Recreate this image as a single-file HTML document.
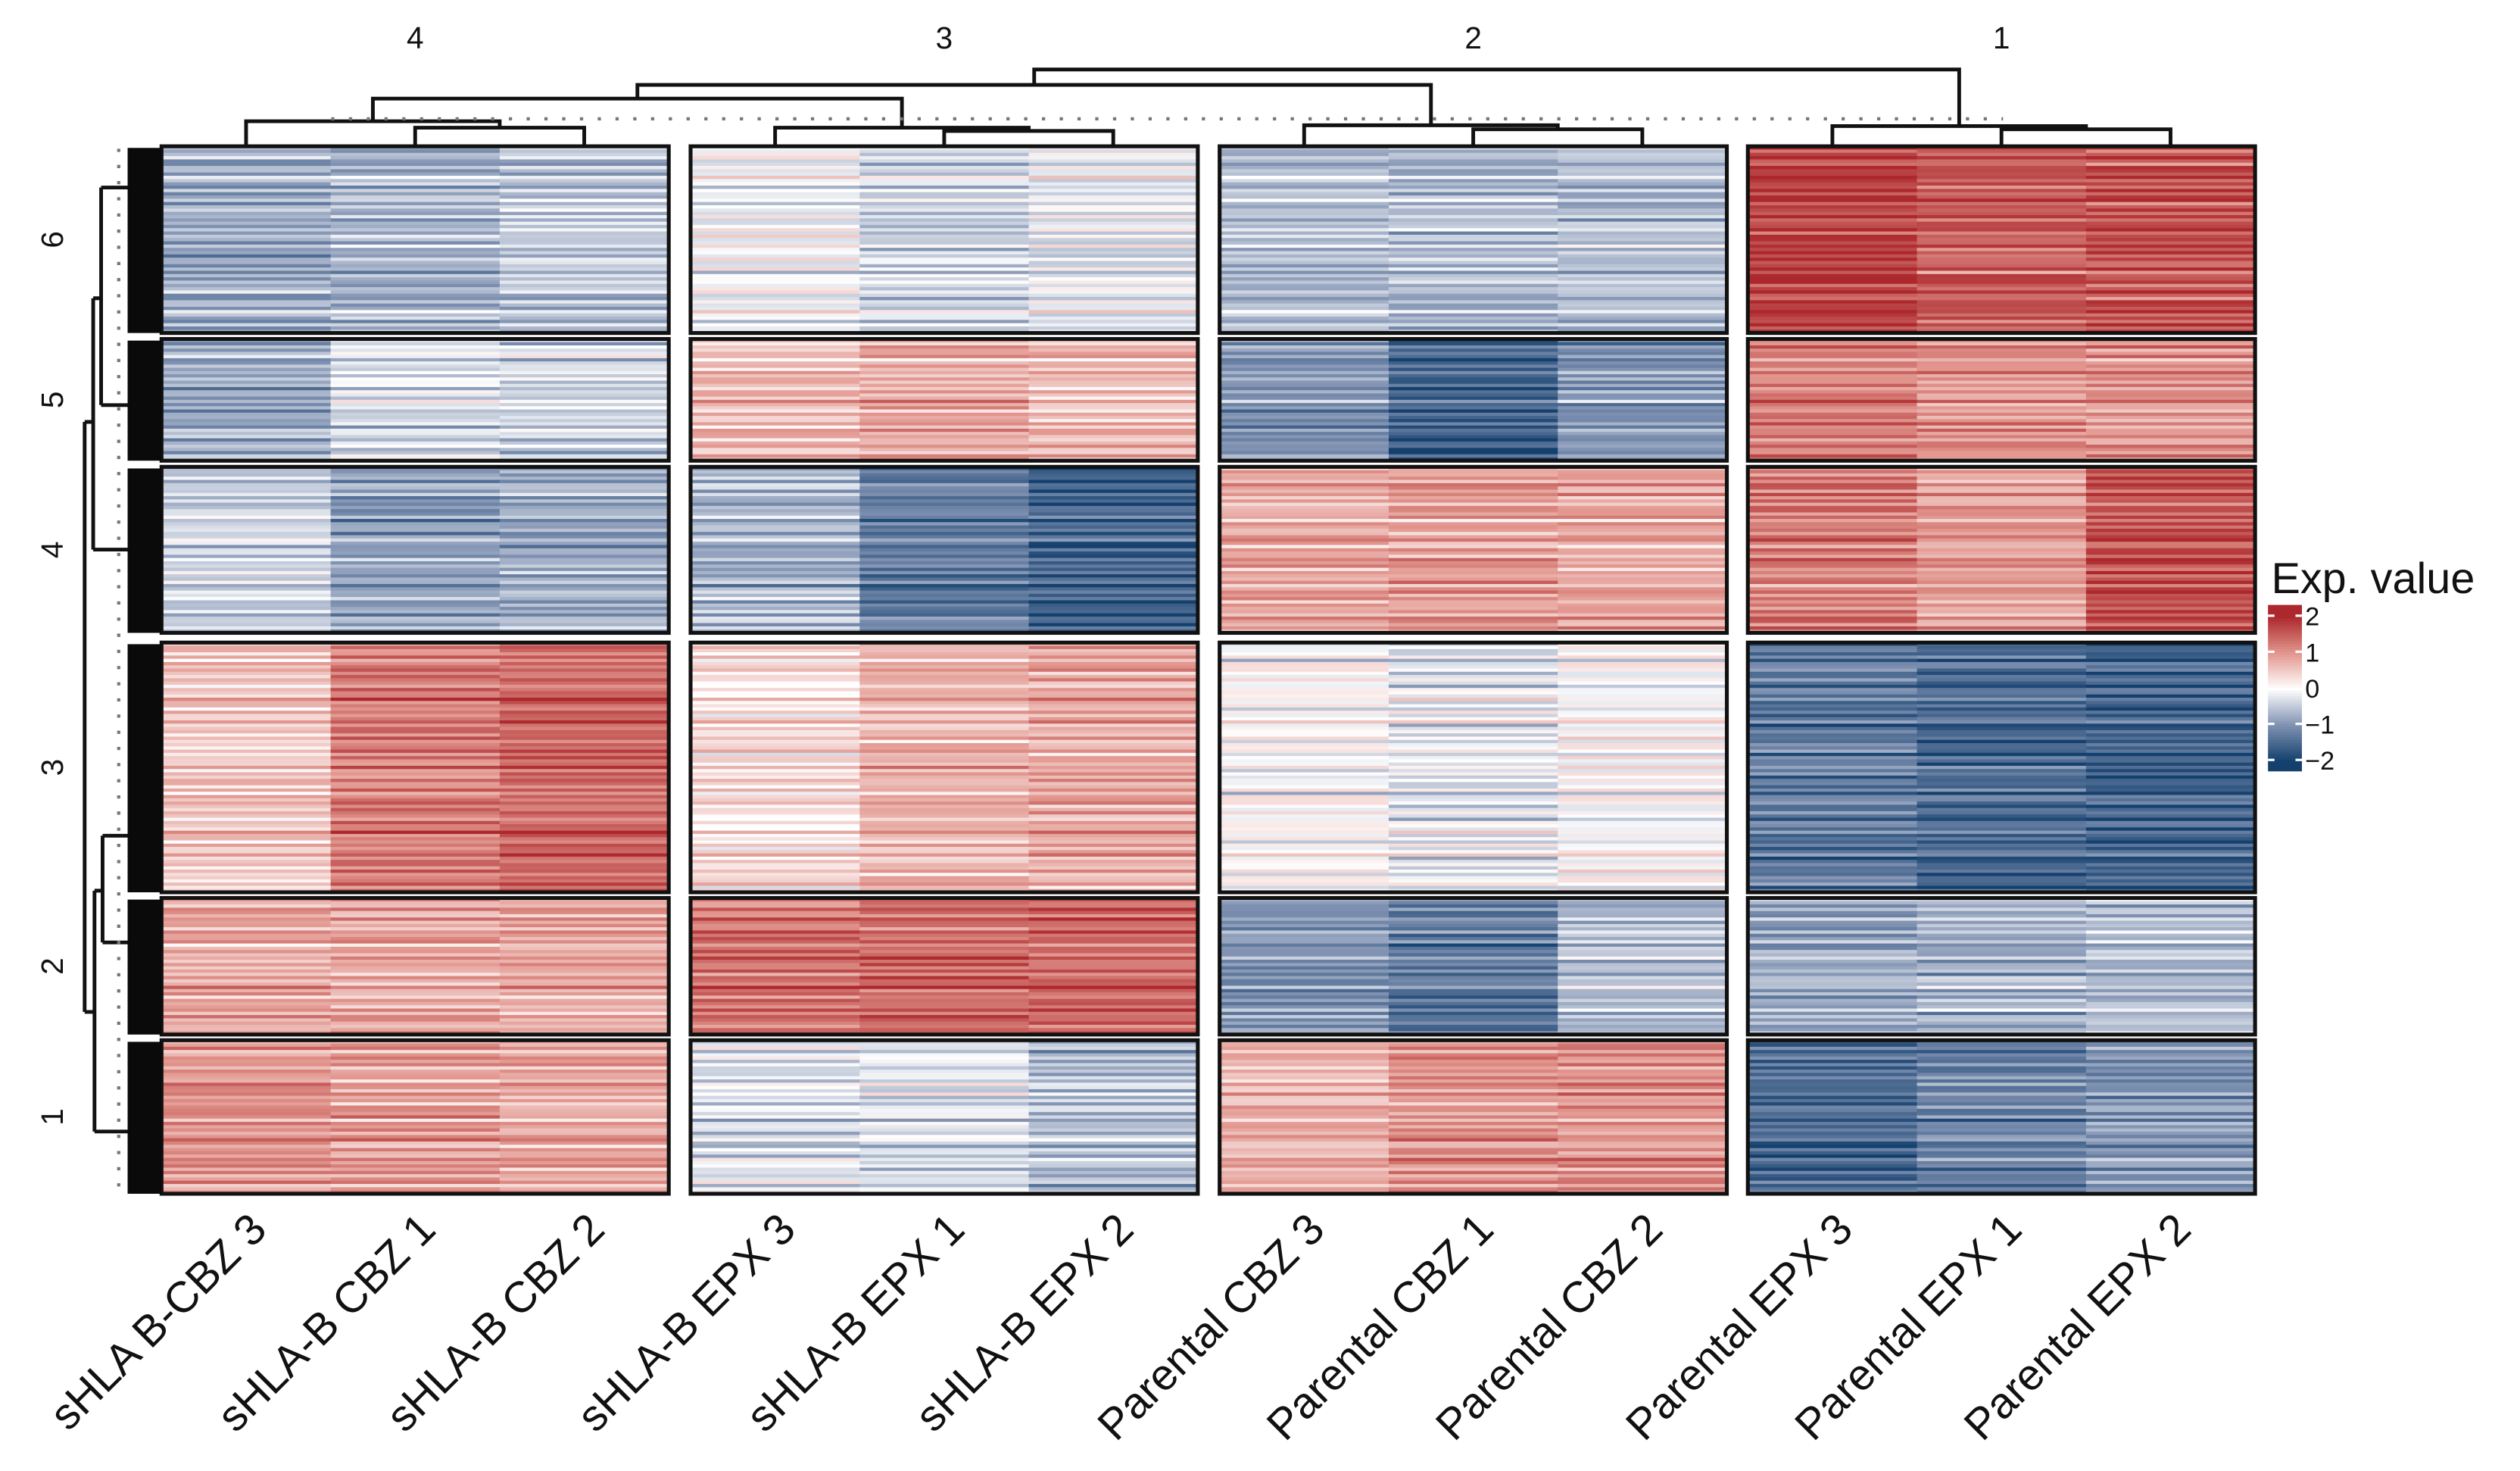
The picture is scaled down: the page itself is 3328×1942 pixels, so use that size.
<!DOCTYPE html>
<html><head><meta charset="utf-8">
<style>
html,body{margin:0;padding:0;background:#fff;}
svg{display:block;}
text{font-family:"Liberation Sans",Arial,sans-serif;fill:#111;}
</style></head>
<body>
<svg id="chart" width="3328" height="1942" viewBox="0 0 1560 910" preserveAspectRatio="none" xmlns="http://www.w3.org/2000/svg">
<g id="cells"></g>
<g id="frames"></g>
<g id="coldend" stroke="#111" stroke-width="2.3" fill="none"></g>
<g id="rowdend" stroke="#111" stroke-width="2.3" fill="none"></g>
<g id="labels"></g>
<g id="legend"></g>
</svg>
<script>
// ---- data ----
const columnLabels = ["sHLA B-CBZ 3","sHLA-B CBZ 1","sHLA-B CBZ 2","sHLA-B EPX 3","sHLA-B EPX 1","sHLA-B EPX 2","Parental CBZ 3","Parental CBZ 1","Parental CBZ 2","Parental EPX 3","Parental EPX 1","Parental EPX 2"];
const columnGroups = ["4","3","2","1"];
const rowSlices = ["6","5","4","3","2","1"];
const sliceRows = [57, 38, 51, 77, 42, 47];
// mean expression per slice (rows) x column
const slice6 = [-0.8,-0.7,-0.5, -0.1,-0.4,-0.2, -0.6,-0.6,-0.6, 1.8,1.5,1.6];
const slice5 = [-0.8,-0.3,-0.4, 0.6,0.8,0.6, -1.0,-1.6,-1.0, 1.2,1.0,1.0];
const slice4 = [-0.4,-0.9,-0.8, -0.7,-1.3,-1.6, 0.8,0.9,0.8, 1.2,0.9,1.6];
const slice3 = [0.5,1.2,1.4, 0.3,0.7,0.8, 0.0,-0.2,0.0, -1.3,-1.5,-1.6];
const slice2 = [0.8,0.8,0.8, 1.3,1.4,1.4, -1.0,-1.3,-0.6, -0.8,-0.7,-0.6];
const slice1 = [1.0,0.9,0.8, -0.3,-0.3,-0.6, 0.7,1.0,1.0, -1.5,-1.2,-1.0];
const sliceMeans = [slice6, slice5, slice4, slice3, slice2, slice1];
const stripeOffsets = [0.3,-0.5,0.1,0.6,-0.2,-0.7,0.4,0.0,-0.4,0.8,-0.1,0.2,-0.6,0.5,-0.3,0.1,0.7,-0.8,0.0,0.3,-0.2,0.6,-0.5,0.2,-0.1,0.4,-0.7,0.5,0.1,-0.3,0.9,-0.4,0.2,-0.6,0.3,0.0,-0.2,0.6,-0.9,0.4,0.1];
const legendTicks = [2,1,0,-1,-2];

// ---- geometry ----
const panelLeft = [100, 427.5, 755, 1082], panelW = 314, colW = panelW/3;
const sliceTop = [90.5, 209.7, 288.8, 397.5, 555.5, 643.5];
const sliceBot = [206, 285, 391.5, 552, 640, 738.5];
const NS = "http://www.w3.org/2000/svg";
function mk(tag, attrs, parent){const e=document.createElementNS(NS,tag);for(const k in attrs)e.setAttribute(k,attrs[k]);parent.appendChild(e);return e;}
const stops=[[-2,[20,64,110]],[-1,[128,146,178]],[0,[255,255,255]],[1,[226,150,142]],[2,[172,40,44]]];
function color(v){v=Math.max(-2,Math.min(2,v));for(let i=0;i<stops.length-1;i++){const a=stops[i],b=stops[i+1];if(v<=b[0]){const t=(v-a[0])/(b[0]-a[0]);return "rgb("+a[1].map((c,j)=>Math.round(c+(b[1][j]-c)*t)).join(",")+")";}}return "rgb(172,40,44)";}
function colX(c){return panelLeft[Math.floor(c/3)] + (c%3)*colW;}

const cells=document.getElementById("cells");
const N=stripeOffsets.length;
sliceMeans.forEach((means,s)=>{
  const nr=sliceRows[s], h=(sliceBot[s]-sliceTop[s])/nr;
  for(let r=0;r<nr;r++){
    for(let c=0;c<12;c++){
      const v=means[c]+0.55*stripeOffsets[(r+s*11)%N]+0.4*stripeOffsets[(r*3+c*17+s)%N];
      const el=mk("rect",{x:colX(c),y:sliceTop[s]+r*h,width:colW+0.4,height:h+0.4,fill:color(v)},cells);
      
      
    }
  }
});
const frames=document.getElementById("frames");
for(let g=0;g<4;g++)for(let s=0;s<6;s++){
  const el=mk("rect",{x:panelLeft[g],y:sliceTop[s],width:panelW,height:sliceBot[s]-sliceTop[s],fill:"none",stroke:"#111","stroke-width":2.4},frames);
  
  
}
// column dendrogram
const cd=document.getElementById("coldend");
function U(x1,x2,yTop,y1,y2){mk("path",{d:`M${x1},${y1}V${yTop}H${x2}V${y2}`},cd);}
const leaf=c=>colX(c)+colW/2, dendroBase=90.5;
const gm=[];
[[79,75],[81,79],[80,77.5],[80,78]].forEach((hh,g)=>{
  const a=leaf(g*3),b=leaf(g*3+1),c=leaf(g*3+2);
  U(b,c,hh[0],dendroBase,dendroBase);const m1=(b+c)/2;
  U(a,m1,hh[1],dendroBase,hh[0]);gm.push([(a+m1)/2,hh[1]]);
});
U(gm[0][0],gm[1][0],61,gm[0][1],gm[1][1]);const m43=(gm[0][0]+gm[1][0])/2;
U(m43,gm[2][0],52.5,61,gm[2][1]);const m432=(m43+gm[2][0])/2;
U(m432,gm[3][0],43,52.5,gm[3][1]);
mk("line",{x1:205,y1:73.5,x2:1240,y2:73.5,stroke:"#777","stroke-width":2,"stroke-dasharray":"2 9"},cd);
// row dendrogram
const rd=document.getElementById("rowdend");
["M52.4,261V626","M52.4,261H57.7M57.7,184.5V340M57.7,184.5H62.6M62.6,116V250.6M62.6,116H80M62.6,250.6H80M57.7,340H80",
 "M52.4,626H58.5M58.5,551V700M58.5,551H63.5M63.5,517V583M63.5,517H80M63.5,583H80M58.5,700H80"].forEach(p=>mk("path",{d:p},rd));
mk("line",{x1:73.5,y1:92,x2:73.5,y2:738,stroke:"#777","stroke-width":2,"stroke-dasharray":"2 8"},rd);
for(let s=0;s<6;s++){mk("rect",{x:79,y:sliceTop[s]+1,width:21,height:sliceBot[s]-sliceTop[s]-1,fill:"#0a0a0a",stroke:"none"},rd);}
// labels
const lab=document.getElementById("labels");
columnGroups.forEach((t,g)=>{const e=mk("text",{x:panelLeft[g]+panelW/2,y:30,"font-size":19,"text-anchor":"middle"},lab);e.textContent=t;
 
 });
rowSlices.forEach((t,s)=>{const cy=(sliceTop[s]+sliceBot[s])/2;const e=mk("text",{x:0,y:0,"font-size":19,"text-anchor":"middle",transform:`translate(39,${cy}) rotate(-90)`},lab);e.textContent=t;
 
 });
columnLabels.forEach((t,c)=>{const x=leaf(c)+14;const e=mk("text",{x:0,y:0,"font-size":27,"text-anchor":"end",transform:`translate(${x},762) rotate(-45)`},lab);e.textContent=t;
 
 });
// legend
const lg=document.getElementById("legend");
const tt=mk("text",{x:1406,y:367,"font-size":27},lg);tt.textContent="Exp. value";


const ly=v=>425.5-v*22.3;
for(let i=0;i<60;i++){const v=2.3-i*4.6/60;mk("rect",{x:1404,y:ly(v),width:21,height:22.3*4.6/60+0.4,fill:color(v)},lg);}
legendTicks.forEach(v=>{
  if(v!==0){mk("line",{x1:1404,y1:ly(v),x2:1408,y2:ly(v),stroke:"#fff","stroke-width":1.5},lg);mk("line",{x1:1421,y1:ly(v),x2:1425,y2:ly(v),stroke:"#fff","stroke-width":1.5},lg);}
  const e=mk("text",{x:1427,y:ly(v)+6,"font-size":16},lg);e.textContent=(v<0?"\u2212":"")+Math.abs(v);
  
  
});
</script>
</body></html>
